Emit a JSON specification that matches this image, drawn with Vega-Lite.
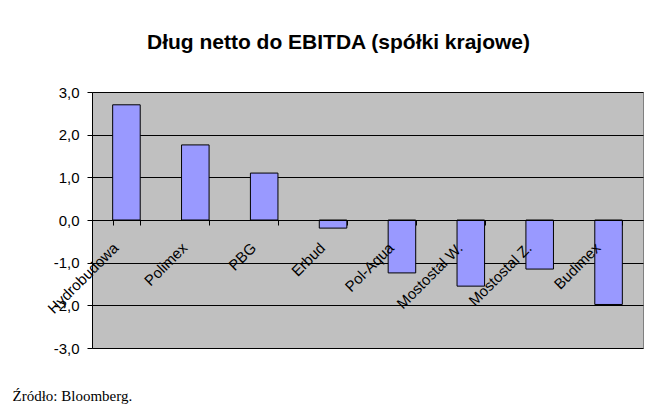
{
  "$schema": "https://vega.github.io/schema/vega-lite/v6.json",
  "width": 551,
  "height": 256,
  "autosize": {"type": "none"},
  "padding": {"left": 92, "top": 92, "right": 21, "bottom": 58},
  "background": "white",
  "title": {
    "text": "Dług netto do EBITDA (spółki krajowe)",
    "font": "Liberation Sans",
    "fontSize": 21,
    "fontWeight": "bold",
    "color": "black",
    "anchor": "middle",
    "dx": -29,
    "offset": 32
  },
  "data": {
    "values": [
      {"spolka": "Hydrobudowa", "wartosc": 2.7},
      {"spolka": "Polimex", "wartosc": 1.76},
      {"spolka": "PBG", "wartosc": 1.1},
      {"spolka": "Erbud", "wartosc": -0.19},
      {"spolka": "Pol-Aqua", "wartosc": -1.24},
      {"spolka": "Mostostal W.", "wartosc": -1.55},
      {"spolka": "Mostostal Z.", "wartosc": -1.15},
      {"spolka": "Budimex", "wartosc": -1.98}
    ]
  },
  "mark": {"type": "bar", "fill": "#9999FF", "stroke": "#000000", "strokeWidth": 1},
  "encoding": {
    "x": {
      "field": "spolka",
      "type": "nominal",
      "sort": null,
      "scale": {"paddingInner": 0.6, "paddingOuter": 0.3},
      "axis": {
        "title": null,
        "orient": "bottom",
        "offset": -128,
        "labelAngle": -45,
        "labelAlign": "right",
        "labelBaseline": "top",
        "labelFont": "Liberation Sans",
        "labelFontSize": 15,
        "labelColor": "black",
        "labelPadding": 15,
        "labelOffset": -16,
        "labelOverlap": false,
        "tickBand": "extent",
        "tickColor": "black",
        "tickSize": 5,
        "domainColor": "black",
        "grid": false,
        "zindex": 1
      }
    },
    "y": {
      "field": "wartosc",
      "type": "quantitative",
      "scale": {"domain": [-3, 3], "nice": false},
      "axis": {
        "title": "Źródło: Bloomberg.",
        "titleAngle": 0,
        "titleX": -80,
        "titleY": 308,
        "titleAlign": "left",
        "titleBaseline": "alphabetic",
        "titleFont": "Liberation Serif",
        "titleFontSize": 15,
        "titleFontWeight": "normal",
        "titleColor": "black",
        "values": [-3, -2, -1, 0, 1, 2, 3],
        "labelExpr": "replace(replace(format(datum.value, '.1f'), '.', ','), '\u2212', '-')",
        "labelFont": "Liberation Sans",
        "labelFontSize": 15,
        "labelColor": "black",
        "labelPadding": 8,
        "tickColor": "black",
        "tickSize": 5,
        "domainColor": "black",
        "grid": true,
        "gridColor": "black",
        "gridOpacity": 1
      }
    }
  },
  "config": {"view": {"fill": "#C0C0C0", "stroke": "#808080"}}
}
